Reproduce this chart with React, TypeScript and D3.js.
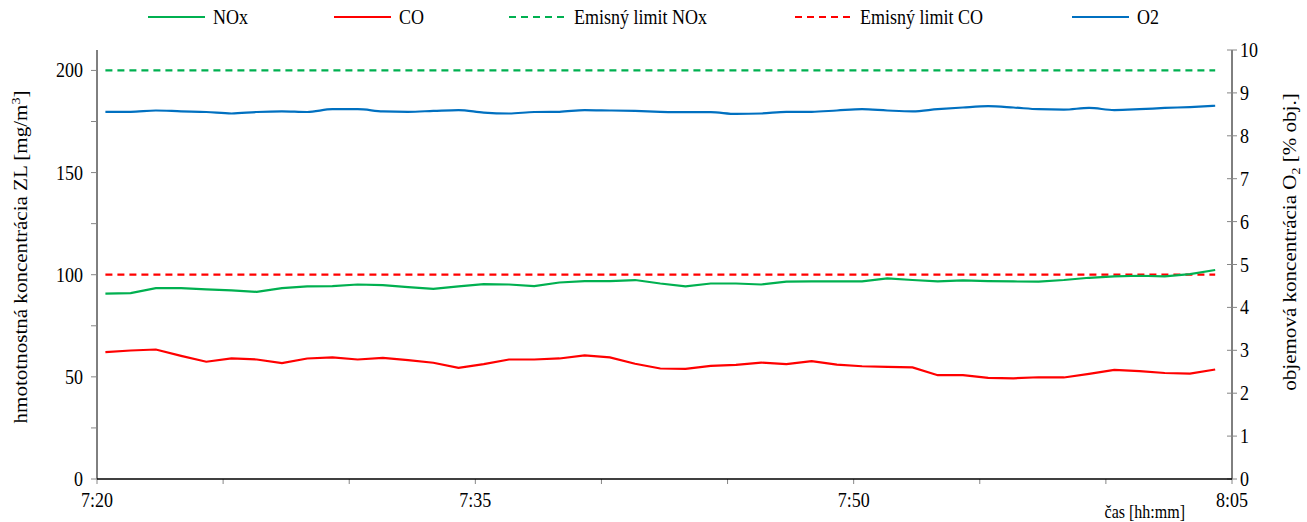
import React, { useEffect, useRef } from 'react';
import * as d3 from 'd3';

// measurement times (every minute)
const times = [
  '7:20:20', '7:21:20', '7:22:20', '7:23:20', '7:24:20', '7:25:20', '7:26:20', '7:27:20', '7:28:20', '7:29:20',
  '7:30:20', '7:31:20', '7:32:20', '7:33:20', '7:34:20', '7:35:20', '7:36:20', '7:37:20', '7:38:20', '7:39:20',
  '7:40:20', '7:41:20', '7:42:20', '7:43:20', '7:44:20', '7:45:20', '7:46:20', '7:47:20', '7:48:20', '7:49:20',
  '7:50:20', '7:51:20', '7:52:20', '7:53:20', '7:54:20', '7:55:20', '7:56:20', '7:57:20', '7:58:20', '7:59:20',
  '8:00:20', '8:01:20', '8:02:20', '8:03:20', '8:04:20'
];

const nox = [
  90.7, 91.0, 93.4, 93.4, 92.8, 92.3, 91.6, 93.4, 94.3, 94.4,
  95.2, 94.9, 93.9, 93.1, 94.3, 95.4, 95.2, 94.4, 96.2, 96.9,
  96.9, 97.4, 95.7, 94.3, 95.7, 95.7, 95.2, 96.6, 96.7, 96.7,
  96.7, 98.2, 97.4, 96.7, 97.2, 96.9, 96.7, 96.6, 97.4, 98.5,
  99.2, 99.5, 99.2, 100.3, 102.3
];

const co = [
  62.1, 62.9, 63.4, 60.3, 57.4, 59.0, 58.5, 56.7, 59.0, 59.5,
  58.5, 59.3, 58.2, 56.9, 54.4, 56.2, 58.5, 58.5, 59.0, 60.5,
  59.5, 56.4, 54.1, 53.9, 55.4, 55.9, 57.0, 56.2, 57.7, 56.0,
  55.2, 54.9, 54.6, 50.8, 50.8, 49.5, 49.3, 49.8, 49.7, 51.5,
  53.4, 52.8, 51.9, 51.6, 53.6
];

const o2 = [
  8.56, 8.56, 8.59, 8.57, 8.555, 8.52, 8.555, 8.57, 8.555, 8.62,
  8.62, 8.57, 8.56, 8.58, 8.60, 8.54, 8.52, 8.555, 8.56, 8.60,
  8.59, 8.58, 8.56, 8.55, 8.55, 8.51, 8.52, 8.56, 8.56, 8.59,
  8.62, 8.59, 8.57, 8.62, 8.66, 8.69, 8.66, 8.62, 8.61, 8.65,
  8.60, 8.62, 8.65, 8.67, 8.70
];

const limitNOx = 200;
const limitCO = 100;

const xStart = '7:20';
const xEnd = '8:05';
const xLabelTicks = ['7:20', '7:35', '7:50', '8:05'];
const leftTicks = [0, 50, 100, 150, 200];
const leftMinorTicks = [25, 75, 125, 175];
const rightTicks = [0, 1, 2, 3, 4, 5, 6, 7, 8, 9, 10];

const GREEN = '#00B050';
const RED = '#FF0000';
const BLUE = '#0070C0';
const FONT = '"Liberation Serif", "Times New Roman", serif';
// the original picture is a bit stretched vertically
const STRETCH = 1.17;

const parseT = (s: string) => {
  const p = s.split(':').map(Number);
  return new Date(2000, 0, 1, p[0], p[1], p[2] || 0);
};

export default function App() {
  const svgRef = useRef<SVGSVGElement>(null);

  useEffect(() => {
    if (!svgRef.current) return;
    const svg = d3.select(svgRef.current);
    svg.selectAll('*').remove();

    const left = 97, right = 1232, top = 50, bottom = 479;

    const x = d3.scaleTime().domain([parseT(xStart), parseT(xEnd)]).range([left, right]);
    const y = d3.scaleLinear().domain([0, 210]).range([bottom, top]);
    const y2 = d3.scaleLinear().domain([0, 10]).range([bottom, top]);

    const dates = times.map(parseT);

    // horizontal text, stretched like the source image
    const hText = (tx: number, ty: number, str: string, anchor = 'start', size = 18) =>
      svg.append('text')
        .attr('transform', `translate(${tx},${ty}) scale(1,${STRETCH})`)
        .attr('text-anchor', anchor).attr('font-family', FONT)
        .attr('font-size', size).attr('fill', '#000').text(str);

    // axes lines
    svg.append('line').attr('x1', left).attr('x2', left).attr('y1', top).attr('y2', bottom)
      .attr('stroke', '#000').attr('stroke-width', 1);
    svg.append('line').attr('x1', right).attr('x2', right).attr('y1', top).attr('y2', bottom)
      .attr('stroke', '#000').attr('stroke-width', 1);

    // left ticks
    [...leftTicks, ...leftMinorTicks].forEach(v => {
      svg.append('line').attr('x1', left - 6).attr('x2', left).attr('y1', y(v)).attr('y2', y(v))
        .attr('stroke', '#868686').attr('stroke-width', 1);
    });
    leftTicks.forEach(v => hText(83, y(v) + 7, String(v), 'end'));

    // right ticks
    rightTicks.forEach(v => {
      svg.append('line').attr('x1', right - 5).attr('x2', right + 5).attr('y1', y2(v)).attr('y2', y2(v))
        .attr('stroke', '#868686').attr('stroke-width', 1);
      hText(right + 8, y2(v) + 7, String(v), 'start');
    });

    // bottom ticks every 5 min
    const xTicks = d3.timeMinute.every(5)!.range(parseT(xStart), d3.timeSecond.offset(parseT(xEnd), 1));
    xTicks.forEach(t => {
      svg.append('line').attr('x1', x(t)).attr('x2', x(t)).attr('y1', bottom).attr('y2', bottom + 5)
        .attr('stroke', '#868686').attr('stroke-width', 1);
    });
    xLabelTicks.forEach(s => hText(x(parseT(s)), 507, s, 'middle'));

    // bottom axis line
    svg.append('line').attr('x1', left).attr('x2', right).attr('y1', bottom).attr('y2', bottom)
      .attr('stroke', '#000').attr('stroke-width', 1.3);

    // limit lines
    const limitLine = (val: number) => d3.line<Date>().x(d => x(d)).y(() => y(val));
    svg.append('path').datum(dates).attr('d', limitLine(limitNOx)).attr('fill', 'none')
      .attr('stroke', GREEN).attr('stroke-width', 2.2).attr('stroke-dasharray', '7,5');
    svg.append('path').datum(dates).attr('d', limitLine(limitCO)).attr('fill', 'none')
      .attr('stroke', RED).attr('stroke-width', 2.2).attr('stroke-dasharray', '7,5');

    // series
    const lineL = d3.line<number>().x((_, i) => x(dates[i])).y(d => y(d));
    const lineR = d3.line<number>().x((_, i) => x(dates[i])).y(d => y2(d)).curve(d3.curveMonotoneX);

    svg.append('path').datum(nox).attr('d', lineL).attr('fill', 'none')
      .attr('stroke', GREEN).attr('stroke-width', 2.2);
    svg.append('path').datum(co).attr('d', lineL).attr('fill', 'none')
      .attr('stroke', RED).attr('stroke-width', 2.2);
    svg.append('path').datum(o2).attr('d', lineR).attr('fill', 'none')
      .attr('stroke', BLUE).attr('stroke-width', 2.2);

    // axis titles (vertical, stretched along the text direction)
    const lt = svg.append('text').attr('transform', `translate(27,257) rotate(-90) scale(${STRETCH},1)`)
      .attr('text-anchor', 'middle').attr('font-family', FONT).attr('font-size', 18).attr('fill', '#000');
    lt.append('tspan').text('hmototnostná koncentrácia ZL [mg/m');
    lt.append('tspan').attr('font-size', 12).attr('dy', -7).text('3');
    lt.append('tspan').attr('dy', 7).text(']');

    const rt = svg.append('text').attr('transform', `translate(1296,242) rotate(-90) scale(${STRETCH},1)`)
      .attr('text-anchor', 'middle').attr('font-family', FONT).attr('font-size', 18).attr('fill', '#000');
    rt.append('tspan').text('objemová koncentrácia O');
    rt.append('tspan').attr('font-size', 12).attr('dy', 4).text('2');
    rt.append('tspan').attr('dy', -4).text(' [% obj.]');

    hText(1185, 518, 'čas [hh:mm]', 'end', 16);

    // legend
    const legend = [
      { label: 'NOx', color: GREEN, dash: null, x0: 148 },
      { label: 'CO', color: RED, dash: null, x0: 334 },
      { label: 'Emisný limit NOx', color: GREEN, dash: '7,5', x0: 509 },
      { label: 'Emisný limit CO', color: RED, dash: '7,5', x0: 795 },
      { label: 'O2', color: BLUE, dash: null, x0: 1072 }
    ];
    legend.forEach(l => {
      const ln = svg.append('line').attr('x1', l.x0).attr('x2', l.x0 + 57).attr('y1', 17).attr('y2', 17)
        .attr('stroke', l.color).attr('stroke-width', 2.2);
      if (l.dash) ln.attr('stroke-dasharray', l.dash);
      hText(l.x0 + 65, 24, l.label, 'start');
    });
  }, []);

  return (
    <svg ref={svgRef} width={1307} height={522}
      style={{ position: 'absolute', left: 0, top: 0, background: '#fff' }} />
  );
}
